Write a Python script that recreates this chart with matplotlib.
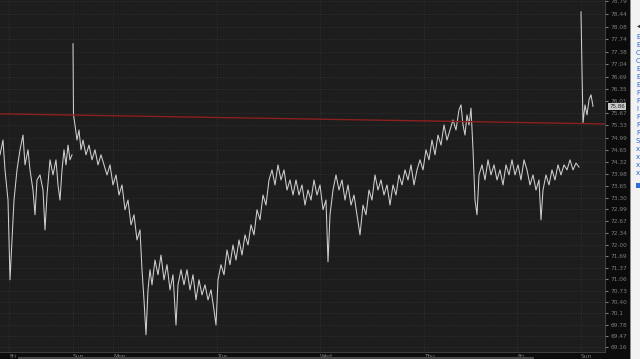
import matplotlib
matplotlib.use('Agg')
import matplotlib.pyplot as plt
from matplotlib.patches import Rectangle
from matplotlib.lines import Line2D

# session 1: Friday
t_fri = [0, 3, 5, 8, 10, 12, 14, 17, 20, 23, 25, 28, 30, 33, 35, 37, 40, 43, 45, 47,
         50, 53, 56, 58, 60, 62, 64, 66, 68, 70, 72]
p_fri = [74.51, 74.92, 74.09, 73.25, 71.03, 72.14, 73.25, 74.09, 74.65, 75.06, 74.23,
         74.65, 74.09, 73.53, 72.84, 73.81, 73.95, 73.53, 72.42, 73.39, 74.37, 73.95,
         74.37, 73.67, 73.25, 74.09, 74.65, 74.23, 74.78, 74.37, 74.51]

# session 2: Sunday -> Friday
t_week = [73, 73.5, 75, 77, 79, 81, 83, 86, 89, 92, 95, 98, 101, 104, 107, 110, 113, 116,
          119, 122, 125, 128, 131, 134, 137, 140, 142, 144, 146, 148, 150, 152, 155, 158,
          161, 164, 167, 170, 173, 176, 178, 181, 184, 187, 190, 193, 196, 199, 202, 205,
          208, 211, 214, 216, 218, 221, 224, 227, 230, 233, 236, 239, 242, 245, 248, 251,
          254, 257, 260, 263, 266, 269, 272, 275, 278, 281, 284, 287, 290, 293, 296, 299,
          302, 305, 308, 311, 314, 317, 320, 323, 326, 328, 330, 333, 336, 339, 342, 345,
          348, 351, 354, 357, 360, 363, 366, 369, 372, 375, 378, 381, 384, 387, 390, 393,
          396, 399, 402, 405, 408, 411, 414, 417, 420, 423, 426, 429, 432, 435, 438, 441,
          444, 447, 450, 453, 456, 459, 461, 463, 465, 467, 469, 471, 473, 475, 477, 479,
          482, 485, 488, 491, 494, 497, 500, 503, 506, 509, 512, 515, 518, 521, 524, 527,
          530, 533, 536, 539, 541, 543, 546, 549, 552, 555, 558, 561, 564, 567, 570, 573,
          576, 579]
p_week = [77.60, 75.62, 75.34, 74.92, 75.20, 74.65, 74.92, 74.51, 74.78, 74.37, 74.65,
          74.23, 74.51, 74.23, 73.95, 74.23, 73.67, 73.95, 73.39, 73.67, 72.98, 73.25,
          72.56, 72.84, 72.14, 72.42, 71.31, 70.47, 69.50, 70.75, 71.31, 70.89, 71.58,
          71.17, 71.72, 71.03, 71.45, 70.75, 71.17, 69.77, 70.89, 71.31, 70.89, 71.31,
          70.75, 71.17, 70.47, 71.03, 70.61, 70.89, 70.47, 70.75, 70.19, 69.77, 71.03,
          71.45, 71.17, 71.86, 71.45, 72.00, 71.58, 72.14, 71.72, 72.28, 72.00, 72.56,
          72.28, 72.98, 72.70, 73.39, 73.11, 73.81, 74.09, 73.67, 74.23, 73.81, 74.09,
          73.53, 73.81, 73.39, 73.81, 73.39, 73.67, 73.11, 73.53, 73.25, 73.81, 73.39,
          73.67, 72.98, 73.25, 71.53, 72.84, 73.53, 73.95, 73.53, 73.81, 73.25, 73.67,
          73.11, 73.39, 72.84, 72.28, 73.11, 72.84, 73.53, 73.25, 73.95, 73.53, 73.81,
          73.39, 73.67, 73.11, 73.67, 73.39, 73.95, 73.67, 74.09, 73.81, 74.23, 73.67,
          74.09, 74.37, 74.09, 74.65, 74.37, 74.92, 74.51, 75.06, 74.78, 75.34, 74.92,
          75.20, 75.48, 75.20, 75.76, 75.90, 75.34, 75.06, 75.62, 75.34, 75.81, 74.65,
          73.25, 72.84, 73.95, 74.23, 73.81, 74.37, 73.95, 74.23, 73.81, 74.09, 73.67,
          74.23, 73.95, 74.37, 73.95, 74.23, 73.81, 74.37, 74.09, 73.67, 73.95, 73.53,
          73.81, 72.70, 73.53, 73.95, 73.67, 74.09, 73.81, 74.23, 73.95, 74.23, 74.09,
          74.37, 74.09, 74.28, 74.17]

# session 3: Sunday
t_sun = [581, 582, 583, 585, 587, 589, 591, 593]
p_sun = [78.49, 76.87, 75.40, 75.90, 75.62, 76.04, 76.18, 75.86]

last_price = 75.86
ref_t = [0, 605]
ref_p = [75.65, 75.37]

y_ticks = [78.79, 78.44, 78.08, 77.74, 77.38, 77.04, 76.69, 76.35, 76.01, 75.67, 75.33,
           74.99, 74.65, 74.32, 73.98, 73.65, 73.30, 72.99, 72.67, 72.34, 72.00, 71.69,
           71.37, 71.06, 70.73, 70.40, 70.1, 69.78, 69.47, 69.16]
day_pos = [9, 73, 113, 217, 320, 424, 517, 581]
day_labels = ['Fri', 'Sun', 'Mon', 'Tue', 'Wed', 'Thu', 'Fri', 'Sun']

side_letters = ['B', 'E', 'C', 'C', 'E', 'E', 'E', 'F', 'F', 'I', 'F', 'R', 'R', 'S',
                'x', 'x', 'x', 'x']

fig = plt.figure(figsize=(6.4, 3.59), dpi=100, facecolor='#0c0c0c')
ax = fig.add_axes([0, 7 / 359, 605 / 640, 352 / 359])
ax.set_facecolor('#1d1d1d')

line_kw = dict(color='#d0d0d0', lw=0.75)
ax.plot(t_fri, p_fri, **line_kw)
ax.plot(t_week, p_week, **line_kw)
ax.plot(t_sun, p_sun, **line_kw)
ax.plot(ref_t, ref_p, color='#8c1f1f', lw=1.0)

ax.set_xlim(0, 605)
ax.set_ylim(69.02, 78.82)

ax.yaxis.tick_right()
ax.set_yticks(y_ticks)
ax.set_yticklabels([str(v) if v == 70.1 else f'{v:.2f}' for v in y_ticks])
ax.tick_params(axis='y', colors='#7e7e7e', labelsize=4.2, length=2, pad=2)
ax.set_xticks(day_pos)
ax.set_xticklabels(day_labels)
ax.tick_params(axis='x', colors='#7e7e7e', labelsize=4.2, length=0, pad=1.5)
for lbl in ax.get_xticklabels():
    lbl.set_horizontalalignment('left')

ax.grid(True, color='#363636', linestyle=(0, (1, 2)), lw=0.6)
for s in ['top', 'left']:
    ax.spines[s].set_visible(False)
ax.spines['right'].set_color('#4a4a4a')
ax.spines['bottom'].set_color('#4a4a4a')
ax.spines['right'].set_linewidth(0.6)
ax.spines['bottom'].set_linewidth(0.6)

ax.annotate(f'{last_price:.2f}', xy=(1.0, last_price), xycoords=('axes fraction', 'data'),
            xytext=(3, 0), textcoords='offset points', fontsize=4, color='#222222',
            va='center', ha='left',
            bbox=dict(boxstyle='square,pad=0.2', fc='#c9c9c9', ec='none'))

# side panel on the right edge
fig.patches.append(Rectangle((630 / 640, 0), 10 / 640, 1, transform=fig.transFigure,
                             facecolor='#f2f2f2', edgecolor='none', zorder=0))
fig.lines.append(Line2D([630 / 640, 630 / 640], [0, 1], transform=fig.transFigure,
                        color='#777777', lw=0.6))
fig.text(637 / 640, 1 - 27 / 359, '◀', fontsize=4, color='#333333', va='center')
for i, ch in enumerate(side_letters):
    fig.text(636 / 640, 1 - (37 + 8 * i) / 359, ch, fontsize=5, color='#2b6fd6', va='center')
fig.patches.append(Rectangle((636 / 640, 1 - 188 / 359), 5 / 640, 5 / 359,
                             transform=fig.transFigure, facecolor='#2b6fd6', edgecolor='none'))

# scrollbar at the bottom
fig.lines.append(Line2D([19 / 640, 533 / 640], [1.5 / 359, 1.5 / 359], transform=fig.transFigure,
                        color='#4a4a4a', lw=1.5))

fig.savefig('out.png', dpi=100, facecolor=fig.get_facecolor())
